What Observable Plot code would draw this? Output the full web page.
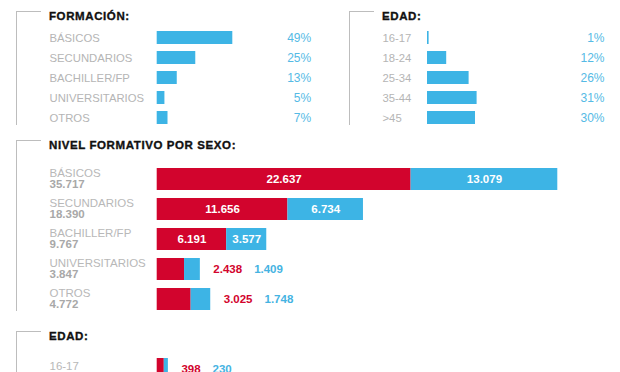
<!DOCTYPE html>
<html><head><meta charset="utf-8">
<script src="https://cdn.jsdelivr.net/npm/d3@7"></script>
<script src="https://cdn.jsdelivr.net/npm/@observablehq/plot@0.6"></script>
<style>
html,body{margin:0;padding:0;background:#fff;width:620px;height:372px;overflow:hidden;font-family:"Liberation Sans",Arial,sans-serif;}
#root{position:relative;width:620px;height:372px;overflow:hidden;}
.panel{position:absolute;}
.title{position:absolute;font-weight:bold;font-size:11.5px;line-height:11.5px;letter-spacing:0.6px;color:#111;white-space:nowrap;-webkit-text-stroke:0.35px #111;}
.vline{position:absolute;width:1px;background:#bdbdbd;}
.hline{position:absolute;height:1px;background:#bdbdbd;}
</style></head><body><div id="root"></div>
<script>
// ---- data ----
const formacionCats = ["BÁSICOS","SECUNDARIOS","BACHILLER/FP","UNIVERSITARIOS","OTROS"];
const formacionPct = [49,25,13,5,7];
const edadCats = ["16-17","18-24","25-34","35-44",">45"];
const edadPct = [1,12,26,31,30];
const nivelCats = ["BÁSICOS","SECUNDARIOS","BACHILLER/FP","UNIVERSITARIOS","OTROS"];
const nivelTotal = [35717,18390,9767,3847,4772];
const nivelHombres = [22637,11656,6191,2438,3025];
const nivelMujeres = [13079,6734,3577,1409,1748];
const edadSexoCats = ["16-17"];
const edadSexoTotal = [628];
const edadSexoHombres = [398];
const edadSexoMujeres = [230];
const edadSexoMax = 22500; // estimated largest age group (scale reference)

const RED = "#d2042d", BLUE = "#3db4e5";
const FONT = "'Liberation Sans', Arial, sans-serif";
const fmt = n => d3.format(",")(n).replace(/,/g, ".");
const root = document.getElementById("root");

function place(el, left, top) {
  el.classList.add("panel");
  el.style.left = left + "px"; el.style.top = top + "px";
  root.appendChild(el);
}
function bracket(x, y, y2, title, tx) {
  const v = document.createElement("div"); v.className = "vline";
  v.style.left = x + "px"; v.style.top = y + "px"; v.style.height = (y2 - y) + "px";
  const h = document.createElement("div"); h.className = "hline";
  h.style.left = x + "px"; h.style.top = y + "px"; h.style.width = "25px";
  const t = document.createElement("div"); t.className = "title";
  t.textContent = title; t.style.left = tx + "px"; t.style.top = (y - 0.5) + "px";
  root.append(v, h, t);
}

// ---- percentage panels ----
function pctChart(cats, vals, width, xDomain, xRange, labelX, marginRight) {
  const data = cats.map((c, i) => ({cat: c, v: vals[i]}));
  return Plot.plot({
    width, height: 130, marginLeft: 0, marginRight, marginTop: 0, marginBottom: 0,
    style: {background: "transparent", fontFamily: FONT, overflow: "visible"},
    x: {domain: xDomain, range: xRange, axis: null},
    y: {domain: cats, range: [25.5, 128.3], paddingInner: 0.37, paddingOuter: 0.185, axis: null},
    marks: [
      Plot.barX(data, {x: "v", y: "cat", fill: BLUE}),
      Plot.text(data, {y: "cat", text: "cat", frameAnchor: "left", dx: labelX, textAnchor: "start", fill: "#b5b5b5", fontSize: 11.3}),
      Plot.text(data, {y: "cat", text: d => d.v + "%", frameAnchor: "right", textAnchor: "end", fill: "#55bae5", fontSize: 12})
    ]
  });
}
place(pctChart(formacionCats, formacionPct, 320, [0, 49], [156.7, 232.3], 49, 9.3), 0, 0);
place(pctChart(edadCats, edadPct, 300, [0, 31], [107, 156.6], 62, 16), 320, 0);

// ---- stacked panels ----
const canvas = document.createElement("canvas").getContext("2d");
canvas.font = "bold 11.5px " + FONT;
const tw = s => canvas.measureText(s).width;

function stackChart(cats, total, h, m, xMax, height, yRange, catDy, totDy) {
  const rows = cats.map((c, i) => ({cat: c, total: total[i], h: h[i], m: m[i]}));
  const pxPerUnit = (557.3 - 156.7) / xMax;
  const inside = rows.filter(d => Math.min(d.h, d.m) * pxPerUnit >= 36);
  const outside = rows.filter(d => Math.min(d.h, d.m) * pxPerUnit < 36);
  const long = rows.flatMap(d => [{cat: d.cat, serie: "h", v: d.h}, {cat: d.cat, serie: "m", v: d.m}]);
  const longIn = inside.flatMap(d => [{cat: d.cat, serie: "h", v: d.h}, {cat: d.cat, serie: "m", v: d.m}]);
  const outMarks = outside.flatMap(d => [
    Plot.text([d], {x: r => r.h + r.m, y: "cat", text: r => fmt(r.h), dx: 13, textAnchor: "start", fill: RED, fontWeight: "bold", fontSize: 11.5}),
    Plot.text([d], {x: r => r.h + r.m, y: "cat", text: r => fmt(r.m), dx: 13 + tw(fmt(d.h)) + 12, textAnchor: "start", fill: "#45b3e2", fontWeight: "bold", fontSize: 11.5})
  ]);
  return Plot.plot({
    width: 620, height, marginLeft: 0, marginRight: 0, marginTop: 0, marginBottom: 0,
    style: {background: "transparent", fontFamily: FONT},
    x: {domain: [0, xMax], range: [156.7, 557.3], axis: null},
    y: {domain: cats, range: yRange, paddingInner: 0.283, paddingOuter: 0.1415, axis: null},
    color: {domain: ["h", "m"], range: [RED, BLUE]},
    marks: [
      Plot.barX(long, {x: "v", y: "cat", fill: "serie"}),
      Plot.text(longIn, Plot.stackX({x: "v", y: "cat", text: d => fmt(d.v), fill: "white", fontWeight: "bold", fontSize: 11.5})),
      ...outMarks,
      Plot.text(rows, {y: "cat", text: "cat", frameAnchor: "left", dx: 49, dy: catDy, textAnchor: "start", fill: "#b8b8b8", fontSize: 11.5}),
      Plot.text(rows, {y: "cat", text: d => fmt(d.total), frameAnchor: "left", dx: 49, dy: totDy, textAnchor: "start", fill: "#a8a8a8", fontWeight: "bold", fontSize: 11.5})
    ]
  });
}
place(stackChart(nivelCats, nivelTotal, nivelHombres, nivelMujeres, 35717, 190, [31.85, 185.35], -5.7, 4.9), 0, 130);
place(stackChart(edadSexoCats, edadSexoTotal, edadSexoHombres, edadSexoMujeres, edadSexoMax, 52, [33.15, 63.85], -3, 8.5), 0, 320);

// ---- brackets & titles ----
bracket(16, 11, 125, "FORMACIÓN:", 49);
bracket(349, 11, 125, "EDAD:", 382);
bracket(16, 140, 311, "NIVEL FORMATIVO POR SEXO:", 49);
bracket(16, 331, 372, "EDAD:", 49);
</script></body></html>
